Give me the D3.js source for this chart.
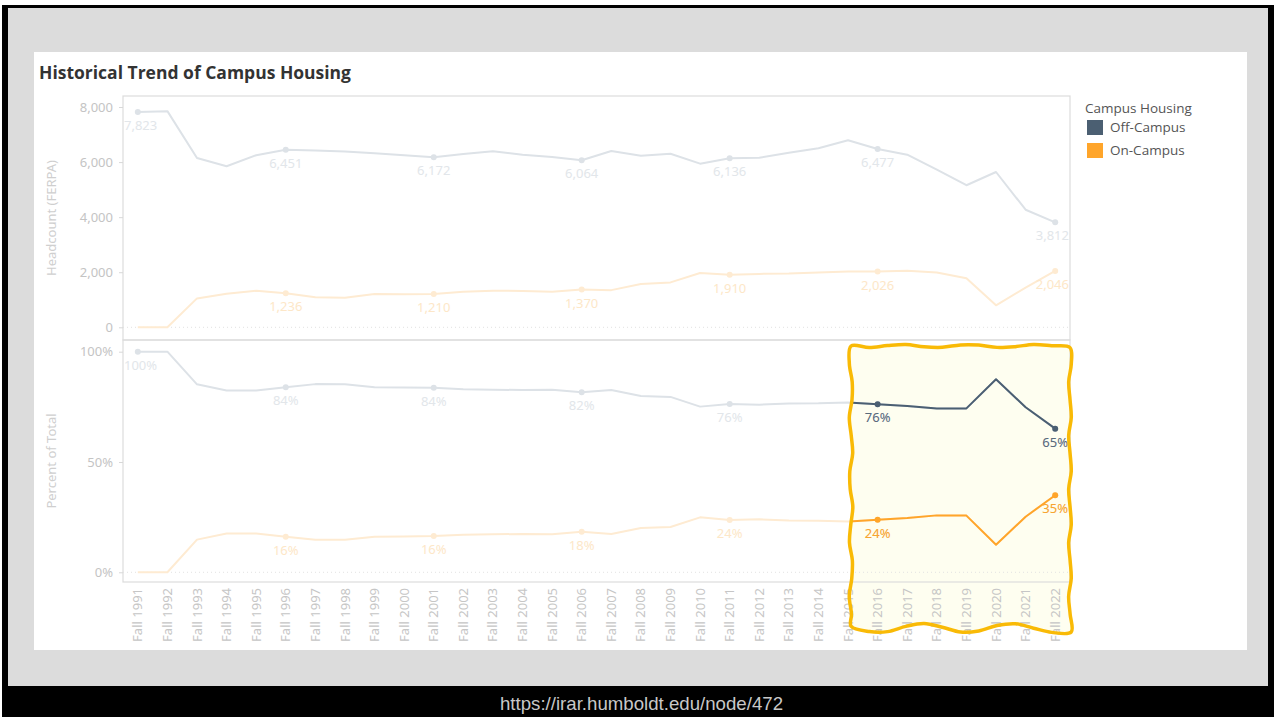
<!DOCTYPE html>
<html><head><meta charset="utf-8">
<script src="https://cdn.jsdelivr.net/npm/d3@7"></script>
<style>body{margin:0;background:#fff;}svg{display:block;font-family:"Noto Sans",sans-serif;}</style>
</head><body>
<svg id="c" width="1276" height="717"></svg>
<script>
// ---------- data ----------
const categories = ["Fall 1991","Fall 1992","Fall 1993","Fall 1994","Fall 1995","Fall 1996","Fall 1997","Fall 1998","Fall 1999","Fall 2000","Fall 2001","Fall 2002","Fall 2003","Fall 2004","Fall 2005","Fall 2006","Fall 2007","Fall 2008","Fall 2009","Fall 2010","Fall 2011","Fall 2012","Fall 2013","Fall 2014","Fall 2015","Fall 2016","Fall 2017","Fall 2018","Fall 2019","Fall 2020","Fall 2021","Fall 2022"];
const offCampusCount = [7823,7850,6150,5850,6250,6451,6420,6380,6320,6250,6172,6293,6390,6270,6185,6064,6403,6233,6305,5943,6136,6160,6340,6500,6790,6477,6270,5730,5160,5640,4270,3812];
const onCampusCount  = [0,0,1050,1220,1330,1236,1090,1075,1210,1200,1210,1290,1330,1320,1290,1370,1350,1570,1630,1970,1910,1940,1950,1990,2025,2026,2050,1990,1780,800,1440,2046];
const offCampusPct = [100,100,85.2,82.4,82.4,83.9,85.3,85.2,83.9,83.8,83.6,83.0,82.8,82.6,82.7,81.6,82.6,79.9,79.5,75.1,76.3,76.0,76.5,76.6,77.0,76.2,75.4,74.2,74.3,87.5,74.8,65.1];
const onCampusPct  = [0,0,14.8,17.6,17.6,16.1,14.7,14.8,16.1,16.2,16.4,17.0,17.2,17.4,17.3,18.4,17.4,20.1,20.5,24.9,23.7,24.0,23.5,23.4,23.0,23.8,24.6,25.8,25.7,12.5,25.2,34.9];
const offLabelIdx = [0,5,10,15,20,25,31];
const onLabelIdx  = [5,10,15,20,25,31];
const countTicks = [0,2000,4000,6000,8000];
const pctTicks = [0,50,100];
const seriesNames = ["Off-Campus","On-Campus"];
const highlightFrom = "Fall 2015", highlightTo = "Fall 2022";

// ---------- styles ----------
const COL_OFF = "#4b5f72", COL_ON = "#ffa52a";
const FADE_OFF = "#dde2e7", FADE_ON = "#feebd2";
const FADE_OFF_TXT = "#e2e6ea", FADE_ON_TXT = "#fde7c8";
const svg = d3.select("#c");

// frame
svg.append("rect").attr("x",0).attr("y",0).attr("width",1276).attr("height",717).attr("fill","#fff");
svg.append("rect").attr("x",2).attr("y",5).attr("width",1272).attr("height",712).attr("fill","#000");
svg.append("rect").attr("x",8).attr("y",8).attr("width",1260).attr("height",678).attr("fill","#dcdcdc");
svg.append("rect").attr("x",34).attr("y",52).attr("width",1213).attr("height",598).attr("fill","#fff");
svg.append("text").attr("x",500).attr("y",710)
  .attr("font-family","'Liberation Sans',Arial,sans-serif").attr("font-size",18.5).attr("fill","#c8c8c8")
  .attr("textLength",283).attr("lengthAdjust","spacingAndGlyphs")
  .text("https://irar.humboldt.edu/node/472");

// title
svg.append("text").attr("x",39).attr("y",79).attr("font-family","'Open Sans',sans-serif")
  .attr("font-weight",700).attr("font-size",17).attr("fill","#333")
  .attr("textLength",312).attr("lengthAdjust","spacingAndGlyphs")
  .text("Historical Trend of Campus Housing");

// scales
const X0 = 123, X1 = 1070;
const x = d3.scaleBand().domain(categories).range([X0, X1]).padding(0);
const cx = c => x(c) + x.bandwidth()/2;
const yTop = d3.scaleLinear().domain([-461, 8400]).range([340, 96]);
const yBot = d3.scaleLinear().domain([-4.4, 105.3]).range([582, 340]);

// highlight box geometry (from scale)
const bx0 = cx(highlightFrom) + 3, bx1 = X1, by0 = 346, by1 = 632;
function wobbly(){
  const pts = [];
  const n1 = 12, n2 = 16;
  for(let i=0;i<=n1;i++){const t=i/n1; pts.push([bx0+(bx1-bx0)*t, by0+1.6*Math.sin(i*1.7)]);}
  for(let i=1;i<=n2;i++){const t=i/n2; pts.push([bx1+1.5*Math.sin(i*2.1), by0+(by1-by0)*t]);}
  for(let i=1;i<=n1;i++){const t=i/n1; pts.push([bx1-(bx1-bx0)*t, by1-4+4.5*Math.sin(i*1.3+0.5)]);}
  for(let i=1;i<n2;i++){const t=i/n2; pts.push([bx0+1.8*Math.sin(i*1.9+1), by1-(by1-by0)*t]);}
  return d3.line().curve(d3.curveCatmullRomClosed)(pts);
}
const boxPath = wobbly();
svg.append("path").attr("d",boxPath).attr("fill","#fefef0");
const defs = svg.append("defs");
defs.append("clipPath").attr("id","hl").append("path").attr("d",boxPath);

// panel frames
const frame = svg.append("g").attr("fill","none").attr("stroke","#dcdcdc").attr("stroke-width",1.2);
frame.append("rect").attr("x",X0).attr("y",96).attr("width",X1-X0).attr("height",244);
frame.append("rect").attr("x",X0).attr("y",340).attr("width",X1-X0).attr("height",242);

// zero lines
[yTop(0), yBot(0)].forEach(yy=>{
  svg.append("line").attr("x1",X0).attr("x2",X1).attr("y1",yy).attr("y2",yy)
    .attr("stroke","#e2e2e2").attr("stroke-dasharray","1,3");
});

// y axes
function yAxis(scale, ticks, fmt){
  const g = svg.append("g").attr("transform",`translate(${X0},0)`)
    .call(d3.axisLeft(scale).tickValues(ticks).tickFormat(fmt).tickSize(4).tickPadding(6));
  g.select(".domain").remove();
  g.selectAll(".tick line").attr("stroke","#d8d8d8");
  g.selectAll(".tick text").attr("fill","#c4c4c4").attr("font-size",13).attr("font-family","'Noto Sans',sans-serif");
}
yAxis(yTop, countTicks, d3.format(","));
yAxis(yBot, pctTicks, d => d + "%");

svg.append("text").attr("transform",`translate(56,${(96+340)/2}) rotate(-90)`).attr("text-anchor","middle")
  .attr("font-size",13).attr("fill","#cfcfcf").text("Headcount (FERPA)");
svg.append("text").attr("transform",`translate(56,${(340+582)/2}) rotate(-90)`).attr("text-anchor","middle")
  .attr("font-size",13).attr("fill","#cfcfcf").text("Percent of Total");

// x axis labels
const xg = svg.append("g").attr("transform",`translate(0,582)`)
  .call(d3.axisBottom(x).tickSize(0).tickPadding(0));
xg.select(".domain").remove();
xg.selectAll(".tick text").attr("transform","rotate(-90)").attr("text-anchor","end")
  .attr("x",-6).attr("y",0).attr("dy","0.35em")
  .attr("font-size",13).attr("font-family","'Noto Sans',sans-serif").attr("fill","#c6c6c6");

// lines
function drawSeries(vals, scale, color, width, clip){
  const ln = d3.line().x((d,i)=>cx(categories[i])).y(d=>scale(d));
  const p = svg.append("path").datum(vals).attr("d",ln).attr("fill","none")
    .attr("stroke",color).attr("stroke-width",width).attr("stroke-linejoin","round");
  if(clip) p.attr("clip-path","url(#hl)");
}
function drawPoints(vals, scale, idx, color, clip){
  const g = svg.append("g");
  if(clip) g.attr("clip-path","url(#hl)");
  g.selectAll("circle").data(idx).join("circle")
    .attr("cx",i=>cx(categories[i])).attr("cy",i=>scale(vals[i])).attr("r",3).attr("fill",color);
}
function drawLabels(vals, scale, idx, fmt, color, clip){
  const g = svg.append("g");
  if(clip) g.attr("clip-path","url(#hl)");
  g.selectAll("text").data(idx).join("text")
    .attr("font-size",13).attr("fill",color).attr("text-anchor","middle")
    .attr("y",i=>scale(vals[i])+18).text(i=>fmt(vals[i]))
    .each(function(i){
      const w = this.getComputedTextLength();
      let xx = cx(categories[i]);
      xx = Math.max(X0 + w/2 + 1, Math.min(X1 - w/2 - 1, xx));
      d3.select(this).attr("x",xx);
    });
}
const fc = d3.format(","), fp = d => Math.round(d) + "%";

// faded (full chart)
drawSeries(offCampusCount, yTop, FADE_OFF, 2, false);
drawSeries(onCampusCount, yTop, FADE_ON, 2, false);
drawSeries(offCampusPct, yBot, FADE_OFF, 2, false);
drawSeries(onCampusPct, yBot, FADE_ON, 2, false);
drawPoints(offCampusCount, yTop, offLabelIdx, FADE_OFF, false);
drawPoints(onCampusCount, yTop, onLabelIdx, FADE_ON, false);
drawPoints(offCampusPct, yBot, offLabelIdx, FADE_OFF, false);
drawPoints(onCampusPct, yBot, onLabelIdx, FADE_ON, false);
drawLabels(offCampusCount, yTop, offLabelIdx, fc, FADE_OFF_TXT, false);
drawLabels(onCampusCount, yTop, onLabelIdx, fc, FADE_ON_TXT, false);
drawLabels(offCampusPct, yBot, offLabelIdx, fp, FADE_OFF_TXT, false);
drawLabels(onCampusPct, yBot, onLabelIdx, fp, FADE_ON_TXT, false);

// highlighted (inside box)
drawSeries(offCampusPct, yBot, COL_OFF, 2, true);
drawSeries(onCampusPct, yBot, COL_ON, 2, true);
drawPoints(offCampusPct, yBot, offLabelIdx, COL_OFF, true);
drawPoints(onCampusPct, yBot, onLabelIdx, COL_ON, true);
drawLabels(offCampusPct, yBot, offLabelIdx, fp, "#5a6b7b", true);
drawLabels(onCampusPct, yBot, onLabelIdx, fp, "#f7a531", true);

// box outline
svg.append("path").attr("d",boxPath).attr("fill","none").attr("stroke","#f9ba06").attr("stroke-width",3.5);

// legend
const lg = svg.append("g").attr("font-family","'Open Sans',sans-serif");
lg.append("text").attr("x",1085).attr("y",113).attr("font-size",13.5).attr("fill","#555").text("Campus Housing");
seriesNames.forEach((s,i)=>{
  lg.append("rect").attr("x",1087).attr("y",120+i*23).attr("width",16).attr("height",15).attr("fill",i?COL_ON:COL_OFF);
  lg.append("text").attr("x",1110).attr("y",132+i*23).attr("font-size",13.5).attr("fill","#555").text(s);
});
</script>
</body></html>
